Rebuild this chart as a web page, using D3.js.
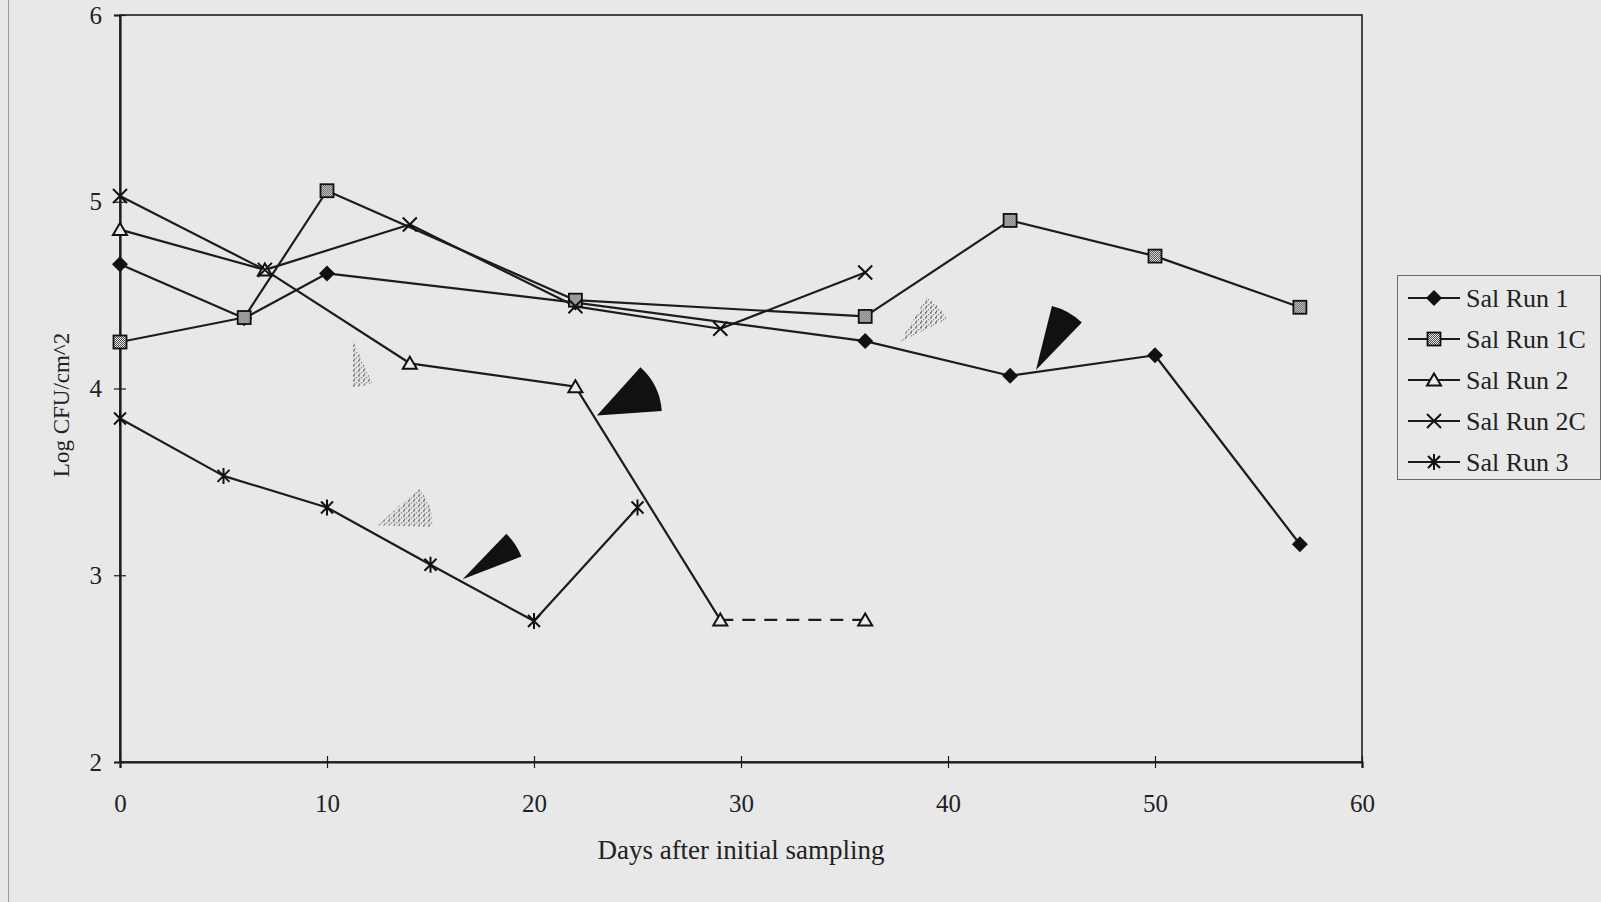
<!DOCTYPE html>
<html>
<head>
<meta charset="utf-8">
<script src="https://cdn.jsdelivr.net/npm/d3@7"></script>
<style>
  html, body { margin: 0; padding: 0; background: #e8e8e8; }
  svg { display: block; }
</style>
</head>
<body>
<div id="chart"></div>
<script>
// values
const days1 = [0, 6, 10, 22, 36, 43, 50, 57];
const run1 = [4.665, 4.376, 4.616, 4.46, 4.254, 4.068, 4.178, 3.166];
const days1C = [0, 6, 10, 22, 36, 43, 50, 57];
const run1C = [4.249, 4.38, 5.059, 4.473, 4.386, 4.9, 4.709, 4.435];
const days2 = [0, 7, 14, 22, 29, 36];
const run2 = [4.851, 4.635, 4.135, 4.01, 2.761, 2.761];
const days2C = [0, 7, 14, 22, 29, 36];
const run2C = [5.031, 4.635, 4.878, 4.44, 4.32, 4.621];
const days3 = [0, 5, 10, 15, 20, 25];
const run3 = [3.839, 3.532, 3.363, 3.056, 2.755, 3.363];

const seriesNames = ["Sal Run 1", "Sal Run 1C", "Sal Run 2", "Sal Run 2C", "Sal Run 3"];
const xTicks = [0, 10, 20, 30, 40, 50, 60];
const yTicks = [2, 3, 4, 5, 6];

// the wedge-like marks printed on the page (tip in data units)
const wedgeDays = [23.04, 16.55, 44.25];
const wedgeVals = [3.855, 2.979, 4.099];
const ghostDays = [11.25, 12.46, 37.68];
const ghostVals = [4.26, 3.268, 4.249];

const series = [
    { name: seriesNames[0], days: days1, vals: run1, marker: "diamond" },
    { name: seriesNames[1], days: days1C, vals: run1C, marker: "square" },
    { name: seriesNames[2], days: days2, vals: run2, marker: "triangle", dashedFrom: 4 },
    { name: seriesNames[3], days: days2C, vals: run2C, marker: "cross" },
    { name: seriesNames[4], days: days3, vals: run3, marker: "asterisk" }
];

const width = 1601;
const height = 902;
const margin = { top: 15, right: 239, bottom: 140, left: 120 };
const font = "'Liberation Serif', 'Times New Roman', serif";
const ink = "#1c1c1c";

const svg = d3.select("#chart").append("svg")
    .attr("width", width)
    .attr("height", height)
    .style("font-family", font);

const defs = svg.append("defs");
const checker = defs.append("pattern")
    .attr("id", "checker")
    .attr("width", 2).attr("height", 2)
    .attr("patternUnits", "userSpaceOnUse");
checker.append("rect").attr("width", 2).attr("height", 2).attr("fill", "#eee");
checker.append("rect").attr("width", 1).attr("height", 1).attr("fill", "#444");
checker.append("rect").attr("x", 1).attr("y", 1).attr("width", 1).attr("height", 1).attr("fill", "#444");

const speckle = defs.append("pattern")
    .attr("id", "speckle")
    .attr("width", 5).attr("height", 5)
    .attr("patternUnits", "userSpaceOnUse");
speckle.append("rect").attr("width", 1.6).attr("height", 1.6).attr("fill", "#555");
speckle.append("rect").attr("x", 3).attr("y", 2).attr("width", 1.3).attr("height", 1.3).attr("fill", "#777");
speckle.append("rect").attr("x", 1).attr("y", 3.5).attr("width", 1.3).attr("height", 1.3).attr("fill", "#444");

// page edge line on the left of the scan
svg.append("line")
    .attr("x1", 8.5).attr("x2", 8.5)
    .attr("y1", 0).attr("y2", height)
    .attr("stroke", "#9a9a9a").attr("stroke-width", 1);

const x = d3.scaleLinear()
    .domain([0, 60])
    .range([margin.left, width - margin.right]);

const y = d3.scaleLinear()
    .domain([2, 6])
    .range([height - margin.bottom, margin.top]);

// plot frame
svg.append("rect")
    .attr("x", x(0)).attr("y", y(6))
    .attr("width", x(60) - x(0))
    .attr("height", y(2) - y(6))
    .attr("fill", "none")
    .attr("stroke", ink)
    .attr("stroke-width", 1.6);

const xAxis = svg.append("g")
    .attr("transform", `translate(0,${y(2)})`)
    .call(d3.axisBottom(x).tickValues(xTicks).tickFormat(d3.format("d")).tickSize(6).tickPadding(26));
xAxis.select(".domain").attr("stroke", ink).attr("stroke-width", 2.2);
xAxis.selectAll(".tick line").attr("stroke", ink).attr("y1", -6).attr("stroke-width", 1.2);
xAxis.selectAll("text")
    .style("font-family", font)
    .style("font-size", "25px")
    .attr("fill", "#222");

const yAxis = svg.append("g")
    .attr("transform", `translate(${x(0)},0)`)
    .call(d3.axisLeft(y).tickValues(yTicks).tickFormat(d3.format("d")).tickSize(6).tickPadding(12));
yAxis.select(".domain").attr("stroke", ink).attr("stroke-width", 2.2);
yAxis.selectAll(".tick line").attr("stroke", ink).attr("x1", 6).attr("stroke-width", 1.2);
yAxis.selectAll("text")
    .style("font-family", font)
    .style("font-size", "25px")
    .attr("fill", "#222");

svg.append("text")
    .attr("x", (x(0) + x(60)) / 2)
    .attr("y", 859)
    .attr("text-anchor", "middle")
    .style("font-size", "27px")
    .attr("fill", "#222")
    .text("Days after initial sampling");

svg.append("text")
    .attr("transform", "translate(69,405) rotate(-90)")
    .attr("text-anchor", "middle")
    .style("font-size", "23px")
    .attr("fill", "#222")
    .text("Log CFU/cm^2");

// wedge marks
function wedgePath(r, a0, a1) {
    return d3.arc()({ innerRadius: 0, outerRadius: r, startAngle: a0, endAngle: a1 });
}
const toRad = deg => deg * Math.PI / 180;
const wedgeShape = [[42, 86, 65], [44, 69, 63], [14, 44, 66]];   // start/end bearing, radius
const ghostShape = [[156, 180, 47], [48, 92, 55], [31, 64, 52]];

svg.append("g").selectAll("path")
    .data(ghostDays.map((d, i) => ({ day: d, val: ghostVals[i], s: ghostShape[i] })))
    .enter().append("path")
    .attr("transform", d => `translate(${x(d.day)},${y(d.val)})`)
    .attr("d", d => wedgePath(d.s[2], toRad(d.s[0]), toRad(d.s[1])))
    .attr("fill", "url(#speckle)")
    .attr("opacity", 0.9);

svg.append("g").selectAll("path")
    .data(wedgeDays.map((d, i) => ({ day: d, val: wedgeVals[i], s: wedgeShape[i] })))
    .enter().append("path")
    .attr("transform", d => `translate(${x(d.day)},${y(d.val)})`)
    .attr("d", d => wedgePath(d.s[2], toRad(d.s[0]), toRad(d.s[1])))
    .attr("fill", "#111");

// lines
const lineGroup = svg.append("g");
series.forEach(s => {
    const pts = s.days.map((d, i) => [x(d), y(s.vals[i])]);
    const solidEnd = s.dashedFrom !== undefined ? s.dashedFrom + 1 : pts.length;
    lineGroup.append("path")
        .attr("d", d3.line()(pts.slice(0, solidEnd)))
        .attr("fill", "none")
        .attr("stroke", ink)
        .attr("stroke-width", 2.2)
        .attr("stroke-linejoin", "round");
    if (s.dashedFrom !== undefined) {
        lineGroup.append("path")
            .attr("d", d3.line()(pts.slice(s.dashedFrom)))
            .attr("fill", "none")
            .attr("stroke", ink)
            .attr("stroke-width", 2.2)
            .attr("stroke-dasharray", "13,9");
    }
});

function drawMarker(g, type) {
    if (type === "diamond") {
        g.append("path").attr("d", "M0,-8L8,0L0,8L-8,0Z").attr("fill", "#111");
    } else if (type === "square") {
        g.append("rect").attr("x", -6.5).attr("y", -6.5).attr("width", 13).attr("height", 13)
            .attr("fill", "url(#checker)").attr("stroke", "#111").attr("stroke-width", 1.8);
    } else if (type === "triangle") {
        g.append("path").attr("d", "M0,-6.5L7,5.5L-7,5.5Z")
            .attr("fill", "#ececec").attr("stroke", "#111").attr("stroke-width", 2);
    } else if (type === "cross") {
        g.append("path").attr("d", "M-7,-7L7,7M-7,7L7,-7")
            .attr("stroke", "#111").attr("stroke-width", 2);
    } else if (type === "asterisk") {
        g.append("path").attr("d", "M-6,-6L6,6M-6,6L6,-6M0,-8L0,8")
            .attr("stroke", "#111").attr("stroke-width", 2);
    }
}

series.forEach(s => {
    s.days.forEach((d, i) => {
        const g = svg.append("g").attr("transform", `translate(${x(d)},${y(s.vals[i])})`);
        drawMarker(g, s.marker);
    });
});

// legend
const legend = svg.append("g").attr("transform", "translate(1397,275)");
legend.append("rect")
    .attr("x", 0.5).attr("y", 0.5)
    .attr("width", 203).attr("height", 204)
    .attr("fill", "none")
    .attr("stroke", "#6a6a6a")
    .attr("stroke-width", 1);

const rowY = d3.scalePoint()
    .domain(seriesNames)
    .range([23, 187]);

series.forEach(s => {
    const row = legend.append("g").attr("transform", `translate(0,${rowY(s.name)})`);
    row.append("line")
        .attr("x1", 11).attr("x2", 63)
        .attr("stroke", ink).attr("stroke-width", 2.2);
    drawMarker(row.append("g").attr("transform", "translate(37,0)"), s.marker);
    row.append("text")
        .attr("x", 69)
        .attr("y", 0)
        .attr("dy", "0.35em")
        .style("font-size", "26px")
        .attr("fill", "#222")
        .text(s.name);
});
</script>
</body>
</html>
